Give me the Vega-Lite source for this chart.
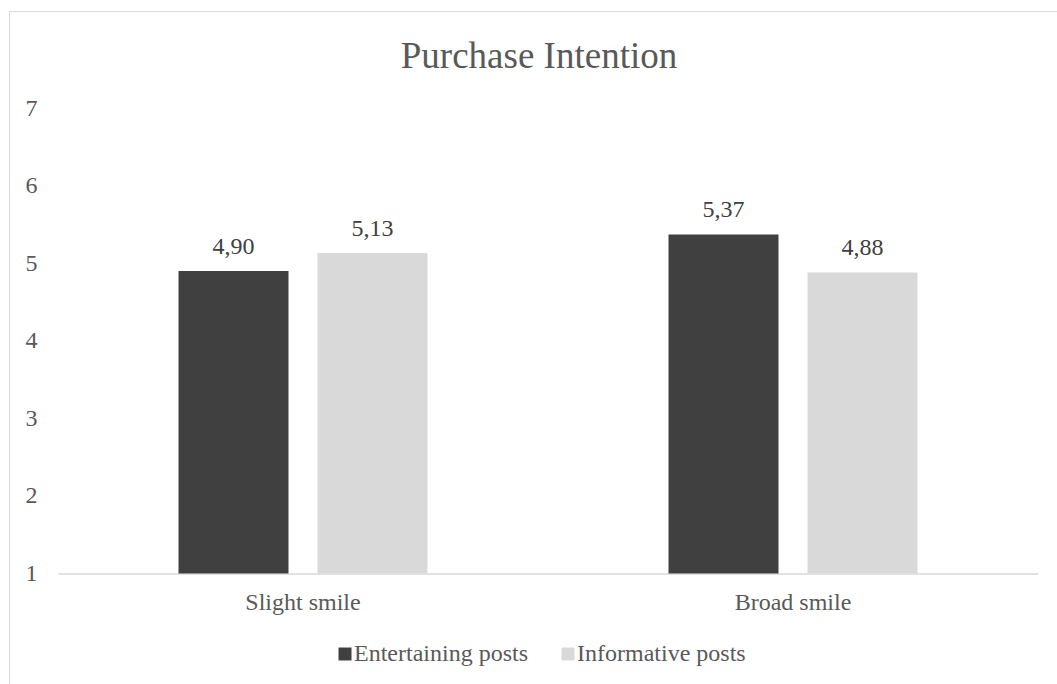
{
  "$schema": "https://vega.github.io/schema/vega-lite/v6.json",
  "autosize": "none",
  "padding": {"left": 9, "top": 11, "right": 0, "bottom": 0},
  "width": 1060,
  "height": 690,
  "background": "white",
  "title": {
    "text": "Purchase Intention",
    "anchor": "middle",
    "frame": "group",
    "offset": -65,
    "font": "Liberation Serif",
    "fontSize": 37,
    "fontWeight": "normal",
    "color": "#595959"
  },
  "data": {
    "values": [
      {"smile": "Slight smile", "post": "Entertaining posts", "value": 4.90},
      {"smile": "Slight smile", "post": "Informative posts", "value": 5.13},
      {"smile": "Broad smile", "post": "Entertaining posts", "value": 5.37},
      {"smile": "Broad smile", "post": "Informative posts", "value": 4.88}
    ]
  },
  "encoding": {
    "x": {
      "field": "smile",
      "type": "nominal",
      "sort": ["Slight smile", "Broad smile"],
      "scale": {"range": [49, 1029], "paddingInner": 0, "paddingOuter": 0},
      "axis": {
        "title": null,
        "orient": "bottom",
        "offset": -127.5,
        "ticks": false,
        "labelAngle": 0,
        "labelPadding": 17,
        "domainColor": "#d9d9d9",
        "domainWidth": 1.5
      }
    },
    "xOffset": {
      "field": "post",
      "type": "nominal",
      "scale": {"paddingInner": 0.2086, "paddingOuter": 0.8669}
    },
    "y": {
      "field": "value",
      "type": "quantitative",
      "scale": {"domain": [-0.6435, 8.2503], "nice": false, "zero": false},
      "axis": {
        "title": null,
        "values": [1, 2, 3, 4, 5, 6, 7],
        "format": "d",
        "domain": false,
        "ticks": false,
        "grid": false,
        "offset": -28,
        "labelPadding": 0
      }
    }
  },
  "layer": [
    {
      "mark": {"type": "bar"},
      "encoding": {
        "y2": {"datum": 1},
        "color": {
          "field": "post",
          "type": "nominal",
          "scale": {
            "domain": ["Entertaining posts", "Informative posts"],
            "range": ["#404040", "#d9d9d9"]
          },
          "legend": {
            "title": null,
            "orient": "none",
            "legendX": 324,
            "legendY": 631,
            "direction": "horizontal",
            "symbolType": "square",
            "symbolSize": 169,
            "symbolStrokeWidth": 0,
            "labelOffset": -3,
            "labelLimit": 0,
            "columnPadding": 28,
            "padding": 0
          }
        }
      }
    },
    {
      "mark": {
        "type": "text",
        "baseline": "alphabetic",
        "align": "center",
        "dy": -17,
        "font": "Liberation Serif",
        "fontSize": 24,
        "color": "#404040"
      },
      "encoding": {
        "text": {"field": "value", "type": "quantitative", "format": ".2f"}
      }
    }
  ],
  "config": {
    "locale": {
      "number": {
        "decimal": ",",
        "thousands": ".",
        "grouping": [3],
        "currency": ["", " €"]
      }
    },
    "view": {"stroke": "#d9d9d9", "strokeWidth": 1},
    "axis": {
      "labelFont": "Liberation Serif",
      "labelFontSize": 24,
      "labelColor": "#595959"
    },
    "legend": {
      "labelFont": "Liberation Serif",
      "labelFontSize": 24,
      "labelColor": "#595959"
    }
  }
}
